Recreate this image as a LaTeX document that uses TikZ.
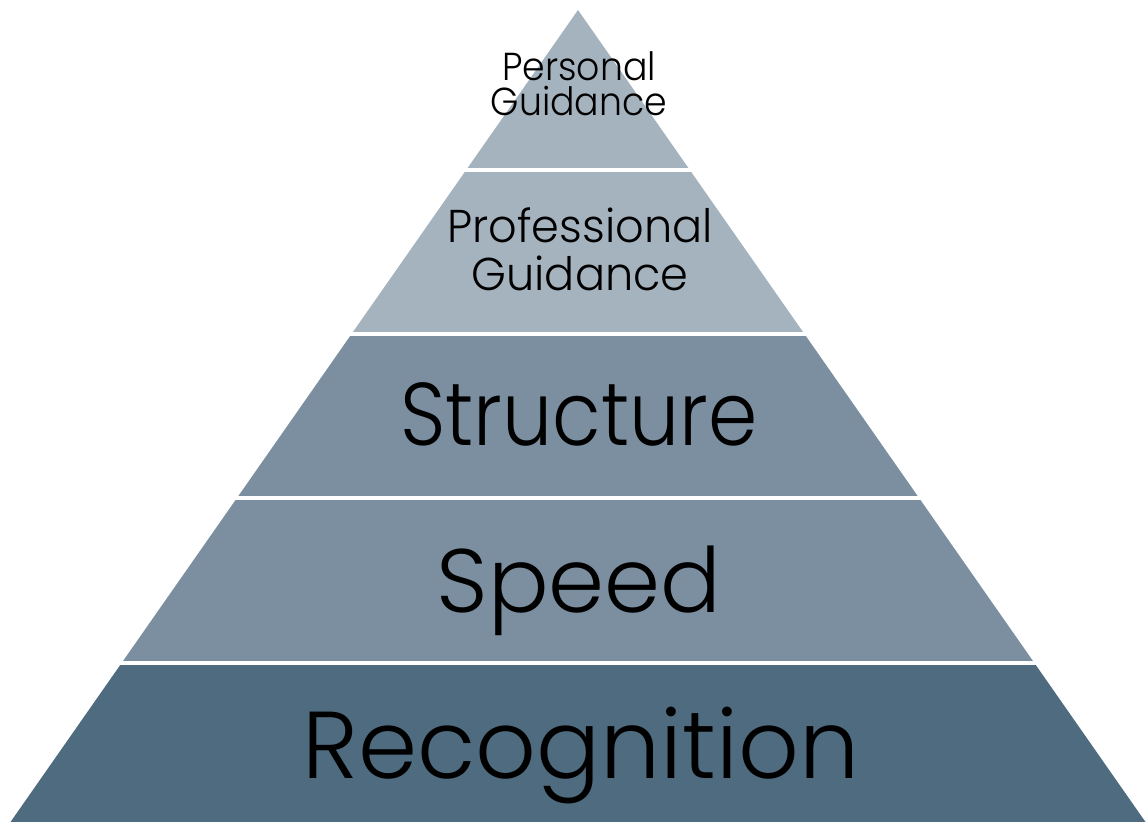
\documentclass[tikz,border=0pt]{standalone}
\usepackage{fontspec}
\setmainfont{Poppins}[UprightFont=* Light]
\definecolor{tierlight}{RGB}{165,179,191}
\definecolor{tiermid}{RGB}{123,143,160}
\definecolor{tierdark}{RGB}{79,107,128}

\tikzset{
  tier/.style={fill=#1},
  tierlabel/.style={anchor=base, inner sep=0pt, align=center, text=black},
}

\begin{document}
\begin{tikzpicture}[x=1pt,y=-1pt]
\useasboundingbox (0,0) rectangle (1146,822);
\coordinate (apex) at (578,10);
\coordinate (bl) at (10.5,822);
\coordinate (br) at (1145.5,822);
% five tiers cut out of one triangle, white gaps between them
\foreach \ytop/\ybot/\col in {10/167/tierlight, 172/331/tierlight, 336/495/tiermid, 500/660.5/tiermid, 665.5/822/tierdark}{
  \begin{scope}
    \clip (0,\ytop) rectangle (1146,\ybot);
    \fill[tier=\col] (apex) -- (bl) -- (br) -- cycle;
  \end{scope}
}
\node[tierlabel, xscale=0.93, font=\fontsize{39}{35}\selectfont] (personal) at (579,115) {Personal\\Guidance};
\node[tierlabel, xscale=0.97, font=\fontsize{46}{48}\selectfont] (professional) at (580,290) {Professional\\Guidance};
\node[tierlabel, xscale=0.89, font=\fontsize{89}{90}\selectfont] (structure) at (579,445) {Structure};
\node[tierlabel, font=\fontsize{90}{90}\selectfont] (speed) at (579,612) {Speed};
\node[tierlabel, font=\fontsize{95}{95}\selectfont] (recognition) at (581,778) {Recognition};
\end{tikzpicture}
\end{document}
